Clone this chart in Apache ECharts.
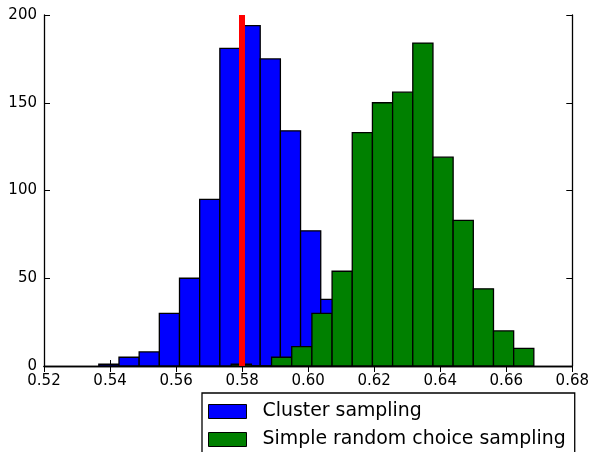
<!DOCTYPE html>
<html>
<head>
<meta charset="utf-8">
<script src="https://cdn.jsdelivr.net/npm/echarts@6/dist/echarts.min.js"></script>
<style>
html,body{margin:0;padding:0;background:#fff;}
#chart{width:592px;height:452px;}
</style>
</head>
<body>
<div id="chart"></div>
<script>
// ---- data ----
var seriesNames = ['Cluster sampling', 'Simple random choice sampling'];
var clusterBinStart = 0.5366;
var clusterBinWidth = 0.00611;
var clusterCounts = [1, 5, 8, 30, 50, 95, 181, 194, 175, 134, 77, 38];
var srsBinStart = 0.5767;
var srsBinWidth = 0.00611;
var srsCounts = [1, 0, 5, 11, 30, 54, 133, 150, 156, 184, 119, 83, 44, 20, 10];
var referenceValue = 0.58;
var xTicks = { min: 0.52, max: 0.68, step: 0.02 };
var yTicks = { min: 0, max: 200, step: 50 };

function toBins(start, width, counts) {
  return counts.map(function (c, i) {
    return [start + i * width, start + (i + 1) * width, c];
  });
}

var FONT = 'DejaVu Sans';

function renderBar(params, api) {
  var p0 = api.coord([api.value(0), api.value(2)]);
  var p1 = api.coord([api.value(1), 0]);
  return {
    type: 'rect',
    shape: { x: p0[0], y: p0[1], width: p1[0] - p0[0], height: p1[1] - p0[1] },
    style: { fill: api.visual('color'), stroke: '#000000', lineWidth: 1.3 }
  };
}

var chart = echarts.init(document.getElementById('chart'), null, { renderer: 'canvas' });

var tickStyle = { show: true, inside: true, length: 6, lineStyle: { color: '#000', width: 1 } };
var lineStyle = { show: true, lineStyle: { color: '#000', width: 1.3 } };

chart.setOption({
  animation: false,
  backgroundColor: '#ffffff',
  grid: { left: 44, right: 19, top: 15, bottom: 86, containLabel: false },
  xAxis: [
    {
      type: 'value', position: 'bottom', min: xTicks.min, max: xTicks.max, interval: xTicks.step,
      axisLine: lineStyle, axisTick: tickStyle, splitLine: { show: false },
      axisLabel: { color: '#000', fontFamily: FONT, fontSize: 15, margin: 8,
        formatter: function (v) { return v.toFixed(2); } }
    },
    {
      type: 'value', position: 'top', min: xTicks.min, max: xTicks.max, interval: xTicks.step,
      axisLine: lineStyle, axisTick: tickStyle, splitLine: { show: false },
      axisLabel: { show: false }
    }
  ],
  yAxis: [
    {
      type: 'value', position: 'left', min: yTicks.min, max: yTicks.max, interval: yTicks.step,
      axisLine: lineStyle, axisTick: tickStyle, splitLine: { show: false },
      axisLabel: { color: '#000', fontFamily: FONT, fontSize: 15, margin: 7 }
    },
    {
      type: 'value', position: 'right', min: yTicks.min, max: yTicks.max, interval: yTicks.step,
      axisLine: lineStyle, axisTick: tickStyle, splitLine: { show: false },
      axisLabel: { show: false }
    }
  ],
  legend: {
    orient: 'vertical',
    left: 202, top: 393, height: 120,
    padding: [9, 9, 9, 6],
    itemWidth: 38, itemHeight: 14, itemGap: 9,
    borderColor: '#000', borderWidth: 1.3, borderRadius: 0,
    icon: 'rect',
    textStyle: { color: '#000', fontFamily: FONT, fontSize: 18.9, lineHeight: 19, padding: [0, 0, 0, 11] },
    itemStyle: { borderColor: '#000', borderWidth: 1 },
    data: seriesNames
  },
  series: [
    {
      name: seriesNames[0], type: 'custom', renderItem: renderBar,
      xAxisIndex: 0, yAxisIndex: 0, z: 2,
      itemStyle: { color: '#0000ff', borderColor: '#000', borderWidth: 1 },
      encode: { x: [0, 1], y: 2 },
      data: toBins(clusterBinStart, clusterBinWidth, clusterCounts)
    },
    {
      name: seriesNames[1], type: 'custom', renderItem: renderBar,
      xAxisIndex: 0, yAxisIndex: 0, z: 3,
      itemStyle: { color: '#008000', borderColor: '#000', borderWidth: 1 },
      encode: { x: [0, 1], y: 2 },
      data: toBins(srsBinStart, srsBinWidth, srsCounts)
    },
    {
      name: 'ref', type: 'line', data: [], z: 10, xAxisIndex: 0, yAxisIndex: 0,
      markLine: {
        silent: true, symbol: ['none', 'none'], animation: false, z: 10,
        label: { show: false },
        lineStyle: { color: '#ff0000', width: 6, type: 'solid', opacity: 1 },
        data: [{ xAxis: referenceValue }]
      }
    }
  ]
});
</script>
</body>
</html>
